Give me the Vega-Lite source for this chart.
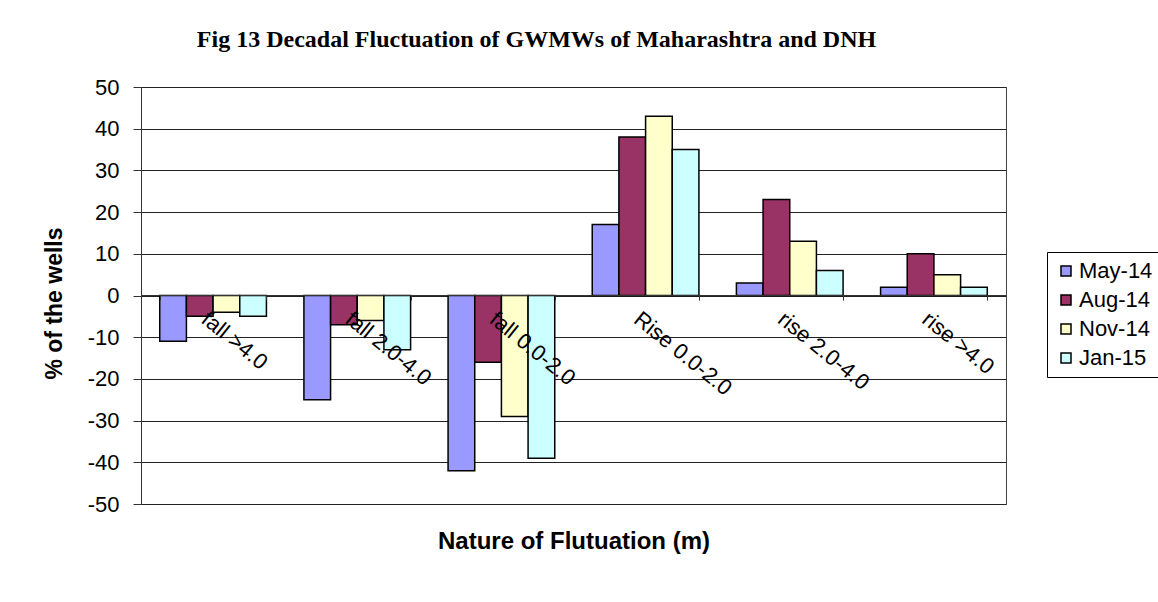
{
  "$schema": "https://vega.github.io/schema/vega-lite/v6.json",
  "autosize": "none",
  "width": 865,
  "height": 417,
  "padding": {"left": 141, "top": 87, "right": 152, "bottom": 98},
  "background": "white",
  "title": {
    "text": "Fig 13 Decadal Fluctuation of GWMWs of Maharashtra and DNH",
    "font": "Liberation Serif",
    "fontSize": 24,
    "fontWeight": "bold",
    "color": "black",
    "anchor": "middle",
    "dx": -37,
    "offset": 24
  },
  "data": {
    "values": [
      {"cat": "fall >4.0", "month": "May-14", "v": -11},
      {"cat": "fall >4.0", "month": "Aug-14", "v": -5},
      {"cat": "fall >4.0", "month": "Nov-14", "v": -4},
      {"cat": "fall >4.0", "month": "Jan-15", "v": -5},
      {"cat": "fall 2.0-4.0", "month": "May-14", "v": -25},
      {"cat": "fall 2.0-4.0", "month": "Aug-14", "v": -7},
      {"cat": "fall 2.0-4.0", "month": "Nov-14", "v": -6},
      {"cat": "fall 2.0-4.0", "month": "Jan-15", "v": -13},
      {"cat": "fall 0.0-2.0", "month": "May-14", "v": -42},
      {"cat": "fall 0.0-2.0", "month": "Aug-14", "v": -16},
      {"cat": "fall 0.0-2.0", "month": "Nov-14", "v": -29},
      {"cat": "fall 0.0-2.0", "month": "Jan-15", "v": -39},
      {"cat": "Rise 0.0-2.0", "month": "May-14", "v": 17},
      {"cat": "Rise 0.0-2.0", "month": "Aug-14", "v": 38},
      {"cat": "Rise 0.0-2.0", "month": "Nov-14", "v": 43},
      {"cat": "Rise 0.0-2.0", "month": "Jan-15", "v": 35},
      {"cat": "rise 2.0-4.0", "month": "May-14", "v": 3},
      {"cat": "rise 2.0-4.0", "month": "Aug-14", "v": 23},
      {"cat": "rise 2.0-4.0", "month": "Nov-14", "v": 13},
      {"cat": "rise 2.0-4.0", "month": "Jan-15", "v": 6},
      {"cat": "rise >4.0", "month": "May-14", "v": 2},
      {"cat": "rise >4.0", "month": "Aug-14", "v": 10},
      {"cat": "rise >4.0", "month": "Nov-14", "v": 5},
      {"cat": "rise >4.0", "month": "Jan-15", "v": 2}
    ]
  },
  "mark": {"type": "bar", "stroke": "black", "strokeWidth": 1.5},
  "encoding": {
    "x": {
      "field": "cat",
      "type": "nominal",
      "sort": ["fall >4.0", "fall 2.0-4.0", "fall 0.0-2.0", "Rise 0.0-2.0", "rise 2.0-4.0", "rise >4.0"],
      "scale": {"paddingInner": 0.26, "paddingOuter": 0.13},
      "axis": {
        "zindex": 1,
        "title": "Nature of Flutuation (m)",
        "titleFont": "Liberation Sans",
        "titleFontSize": 24,
        "titleFontWeight": "bold",
        "titleColor": "black",
        "titleY": 246,
        "titleBaseline": "middle",
        "offset": -209,
        "labelAngle": 39,
        "labelAlign": "left",
        "labelBaseline": "top",
        "labelFont": "Liberation Sans",
        "labelFontSize": 22,
        "labelColor": "black",
        "labelPadding": 8,
        "labelOffset": -3,
        "tickBand": "extent",
        "tickSize": 5,
        "tickColor": "#333",
        "domainColor": "#333",
        "grid": false
      }
    },
    "xOffset": {
      "field": "month",
      "sort": ["May-14", "Aug-14", "Nov-14", "Jan-15"],
      "scale": {"paddingInner": 0, "paddingOuter": 0}
    },
    "y": {
      "field": "v",
      "type": "quantitative",
      "scale": {"domain": [-50, 50], "nice": false},
      "axis": {
        "title": "% of the wells",
        "titleFont": "Liberation Sans",
        "titleFontSize": 23,
        "titleFontWeight": "bold",
        "titleColor": "black",
        "titleX": -87,
        "titleY": 216,
        "titleAngle": -90,
        "titleAlign": "center",
        "titleBaseline": "middle",
        "values": [-50, -40, -30, -20, -10, 0, 10, 20, 30, 40, 50],
        "labelExpr": "toString(datum.value)",
        "labelFont": "Liberation Sans",
        "labelFontSize": 22,
        "labelColor": "black",
        "labelPadding": 14,
        "tickSize": 8,
        "tickColor": "#333",
        "domainColor": "#333",
        "gridColor": "#222",
        "gridOpacity": 1
      }
    },
    "color": {
      "field": "month",
      "type": "nominal",
      "sort": ["May-14", "Aug-14", "Nov-14", "Jan-15"],
      "scale": {
        "domain": ["May-14", "Aug-14", "Nov-14", "Jan-15"],
        "range": ["#9999FF", "#993366", "#FFFFCC", "#CCFFFF"]
      },
      "legend": {
        "title": null,
        "orient": "none",
        "legendX": 906,
        "legendY": 165,
        "symbolType": "square",
        "symbolSize": 100,
        "symbolStrokeColor": "black",
        "symbolStrokeWidth": 1.5,
        "labelFont": "Liberation Sans",
        "labelFontSize": 22,
        "labelColor": "black",
        "rowPadding": 7,
        "labelOffset": 2,
        "padding": 8,
        "strokeColor": "black",
        "fillColor": "white"
      }
    }
  },
  "config": {
    "view": {"stroke": "#444", "strokeWidth": 1}
  }
}
